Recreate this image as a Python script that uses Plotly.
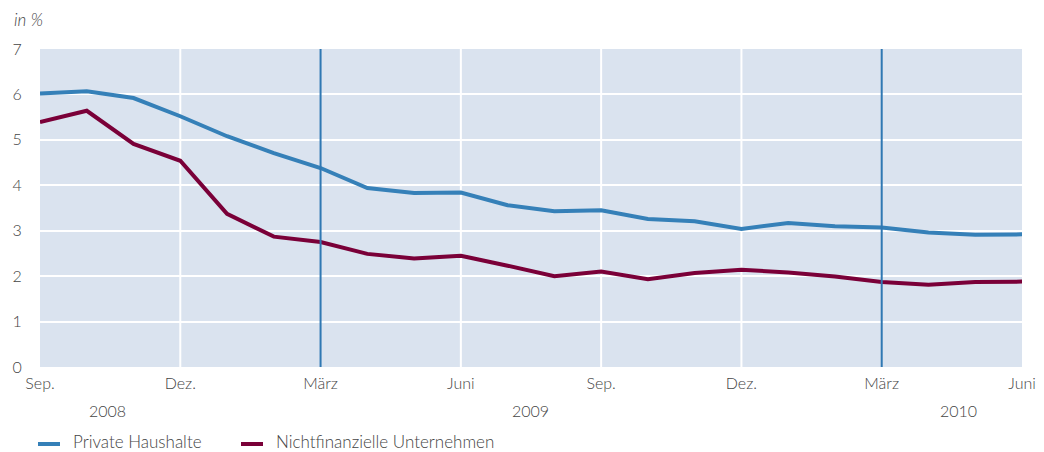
import plotly.graph_objects as go

# Monthly observations, Sep. 2008 – Juni 2010
months = ["Sep 08", "Okt 08", "Nov 08", "Dez 08", "Jan 09", "Feb 09", "Mär 09",
          "Apr 09", "Mai 09", "Jun 09", "Jul 09", "Aug 09", "Sep 09", "Okt 09",
          "Nov 09", "Dez 09", "Jan 10", "Feb 10", "Mär 10", "Apr 10", "Mai 10",
          "Jun 10"]
private_haushalte = [6.02, 6.07, 5.92, 5.52, 5.08, 4.71, 4.38, 3.94, 3.83, 3.84,
                     3.56, 3.43, 3.45, 3.26, 3.21, 3.04, 3.17, 3.10, 3.07, 2.96,
                     2.91, 2.92]
unternehmen = [5.39, 5.64, 4.91, 4.54, 3.37, 2.87, 2.75, 2.49, 2.39, 2.45,
               2.23, 2.00, 2.10, 1.93, 2.07, 2.14, 2.08, 1.99, 1.87, 1.81,
               1.87, 1.88]

tick_pos = [0, 3, 6, 9, 12, 15, 18, 21]
tick_text = ["Sep.", "Dez.", "März", "Juni", "Sep.", "Dez.", "März", "Juni"]
white_grid = [3, 9, 12, 15]
marz_lines = [6, 18]
years = ["2008", "2009", "2010"]
year_pos = [1.44, 10.48, 19.65]

series_names = ["Private Haushalte", "Nichtfinanzielle Unternehmen"]

BLUE = "#3580b8"
RED = "#7a0038"
TXT = "#444444"
FONT = "Lato"

# plot area geometry in pixels (for the hand-placed key below the axis)
W, H = 1044, 452
ML, MR, MT, MB = 40, 22, 49, 85
PW, PH = W - ML - MR, H - MT - MB


def px_x(p):
    return (p - ML) / PW


def px_y(p):
    return (H - MB - p) / PH


x = list(range(len(months)))

fig = go.Figure()
fig.add_trace(go.Scatter(x=x, y=private_haushalte, mode="lines",
                         name=series_names[0],
                         line=dict(color=BLUE, width=4)))
fig.add_trace(go.Scatter(x=x, y=unternehmen, mode="lines",
                         name=series_names[1],
                         line=dict(color=RED, width=4)))

shapes = []
for g in white_grid:
    shapes.append(dict(type="line", xref="x", yref="paper", x0=g, x1=g, y0=0, y1=1,
                       line=dict(color="white", width=2), layer="between"))
for g in marz_lines:
    shapes.append(dict(type="line", xref="x", yref="paper", x0=g, x1=g, y0=0, y1=1,
                       line=dict(color="#2f78b3", width=2), layer="above"))

annotations = [dict(text="<i>in %</i>", xref="paper", yref="paper",
                    x=px_x(12), y=px_y(20),
                    xanchor="left", yanchor="middle", showarrow=False,
                    font=dict(family=FONT, size=17, color=TXT, weight=300))]
for yr, p in zip(years, year_pos):
    annotations.append(dict(text=yr, xref="x", yref="paper", x=p, y=px_y(410),
                            xanchor="center", yanchor="middle", showarrow=False,
                            font=dict(family=FONT, size=16, color=TXT, weight=300)))

# key: short line swatch followed by the series name
key_swatch_x = [38, 241]
key_text_x = [72, 275]
key_y = 444
for name, col, sx, tx in zip(series_names, [BLUE, RED], key_swatch_x, key_text_x):
    shapes.append(dict(type="line", xref="paper", yref="paper",
                       x0=px_x(sx), x1=px_x(sx + 22), y0=px_y(key_y), y1=px_y(key_y),
                       line=dict(color=col, width=4)))
    annotations.append(dict(text=name, xref="paper", yref="paper",
                            x=px_x(tx), y=px_y(441), xanchor="left", yanchor="middle",
                            showarrow=False, borderpad=0,
                            font=dict(family=FONT, size=17, color=TXT, weight=300)))

fig.update_layout(
    width=W, height=H,
    margin=dict(l=ML, r=MR, t=MT, b=MB, autoexpand=False),
    paper_bgcolor="white",
    plot_bgcolor="#dae3ef",
    font=dict(family=FONT, size=16, color=TXT, weight=300),
    shapes=shapes,
    annotations=annotations,
    showlegend=False,
    xaxis=dict(range=[0, 21], tickvals=tick_pos, ticktext=tick_text,
               showgrid=False, zeroline=False, showline=False,
               ticks="outside", ticklen=2, tickcolor="rgba(0,0,0,0)",
               tickfont=dict(family=FONT, size=16, color=TXT, weight=300)),
    yaxis=dict(range=[0, 7], dtick=1, showgrid=True, gridcolor="white", gridwidth=2,
               zeroline=False, showline=False,
               ticks="outside", ticklen=14, tickcolor="rgba(0,0,0,0)",
               tickfont=dict(family=FONT, size=16, color=TXT, weight=300)),
)

fig.write_html("out.html")
